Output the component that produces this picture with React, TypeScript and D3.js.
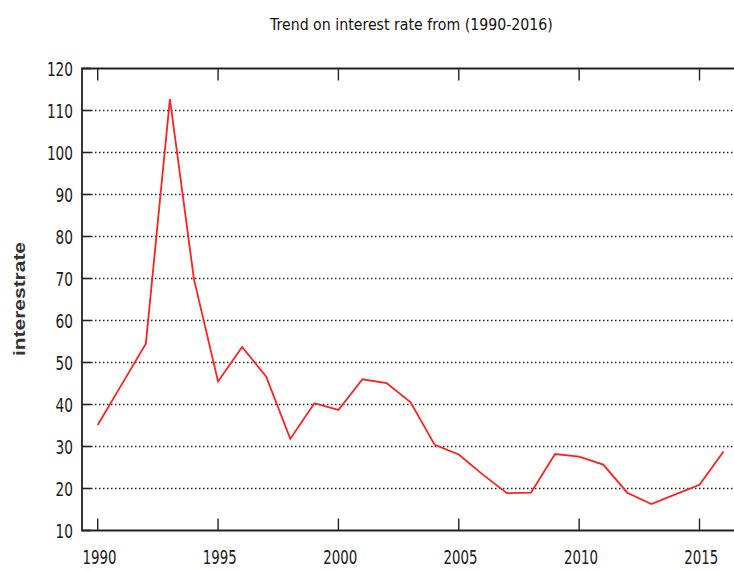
import React from "react";
import * as d3 from "d3";

const years: number[] = [
  1990, 1991, 1992, 1993, 1994, 1995, 1996, 1997, 1998, 1999, 2000, 2001, 2002,
  2003, 2004, 2005, 2006, 2007, 2008, 2009, 2010, 2011, 2012, 2013, 2014, 2015, 2016,
];
const rates: number[] = [
  35.1, 44.8, 54.5, 112.7, 69.8, 45.5, 53.7, 46.6, 31.8, 40.3, 38.7, 46.0, 45.1,
  40.5, 30.4, 28.1, 23.3, 18.9, 19.0, 28.2, 27.6, 25.7, 19.0, 16.3, 18.6, 20.9, 28.8,
];
const xTicks: number[] = [1990, 1995, 2000, 2005, 2010, 2015];
const yTicks: number[] = [10, 20, 30, 40, 50, 60, 70, 80, 90, 100, 110, 120];
const titleText = "Trend on interest rate from (1990-2016)";
const yLabel = "interestrate";

const W = 734;
const H = 570;
const left = 82;
const right = 760;
const top = 68.5;
const bottom = 530.5;

export default function App() {
  const x = d3.scaleLinear().domain([1990, 2015]).range([97.7, 699.5]);
  const y = d3.scaleLinear().domain([10, 120]).range([bottom, top]);
  const line = d3
    .line<number>()
    .x((_, i) => x(years[i]))
    .y((d) => y(d));
  const tickFont = "'DejaVu Sans', sans-serif";
  return (
    <svg
      width={W}
      height={H}
      style={{ position: "absolute", left: 0, top: 0, background: "#fff" }}
    >
      <rect x={0} y={0} width={W} height={H} fill="#fff" />
      {yTicks
        .filter((t) => t > 10 && t < 120)
        .map((t) => (
          <line
            key={"g" + t}
            x1={left + 9}
            x2={right}
            y1={y(t)}
            y2={y(t)}
            stroke="#222"
            strokeWidth={1.4}
            strokeDasharray="1.5,2.5"
          />
        ))}
      {yTicks.map((t) => (
        <line
          key={"yt" + t}
          x1={left}
          x2={left + 9}
          y1={y(t)}
          y2={y(t)}
          stroke="#222"
          strokeWidth={1.6}
        />
      ))}
      {xTicks.map((t) => (
        <g key={"xt" + t}>
          <line x1={x(t)} x2={x(t)} y1={bottom} y2={bottom - 12} stroke="#222" strokeWidth={1.4} />
          <line x1={x(t)} x2={x(t)} y1={top} y2={top + 12} stroke="#222" strokeWidth={1.4} />
        </g>
      ))}
      <path
        d={`M${right},${top}H${left}V${bottom}H${right}`}
        fill="none"
        stroke="#222"
        strokeWidth={1.8}
      />
      <path d={line(rates) || ""} fill="none" stroke="#ff2020" strokeWidth={1.8} strokeLinejoin="miter" />
      {yTicks.map((t) => {
        const s = String(t);
        return (
          <text
            key={"yl" + t}
            x={73}
            y={y(t) + 7}
            textAnchor="end"
            fontFamily={tickFont}
            fontSize={19}
            fill="#1a1a1a"
            textLength={s.length * 8.7}
            lengthAdjust="spacingAndGlyphs"
          >
            {s}
          </text>
        );
      })}
      {xTicks.map((t) => {
        const s = String(t);
        return (
          <text
            key={"xl" + t}
            x={x(t) + 1.8}
            y={564}
            textAnchor="middle"
            fontFamily={tickFont}
            fontSize={19.5}
            fill="#1a1a1a"
            textLength={34}
            lengthAdjust="spacingAndGlyphs"
          >
            {s}
          </text>
        );
      })}
      <text
        x={411.4}
        y={29.5}
        textAnchor="middle"
        fontFamily={tickFont}
        fontSize={16.5}
        fill="#111"
        textLength={283}
        lengthAdjust="spacingAndGlyphs"
      >
        {titleText}
      </text>
      <text
        transform={`translate(25,299) rotate(-90)`}
        textAnchor="middle"
        fontFamily="'Liberation Sans', Arial, sans-serif"
        fontWeight="bold"
        fontSize={16}
        fill="#333"
        textLength={114}
        lengthAdjust="spacingAndGlyphs"
      >
        {yLabel}
      </text>
    </svg>
  );
}
